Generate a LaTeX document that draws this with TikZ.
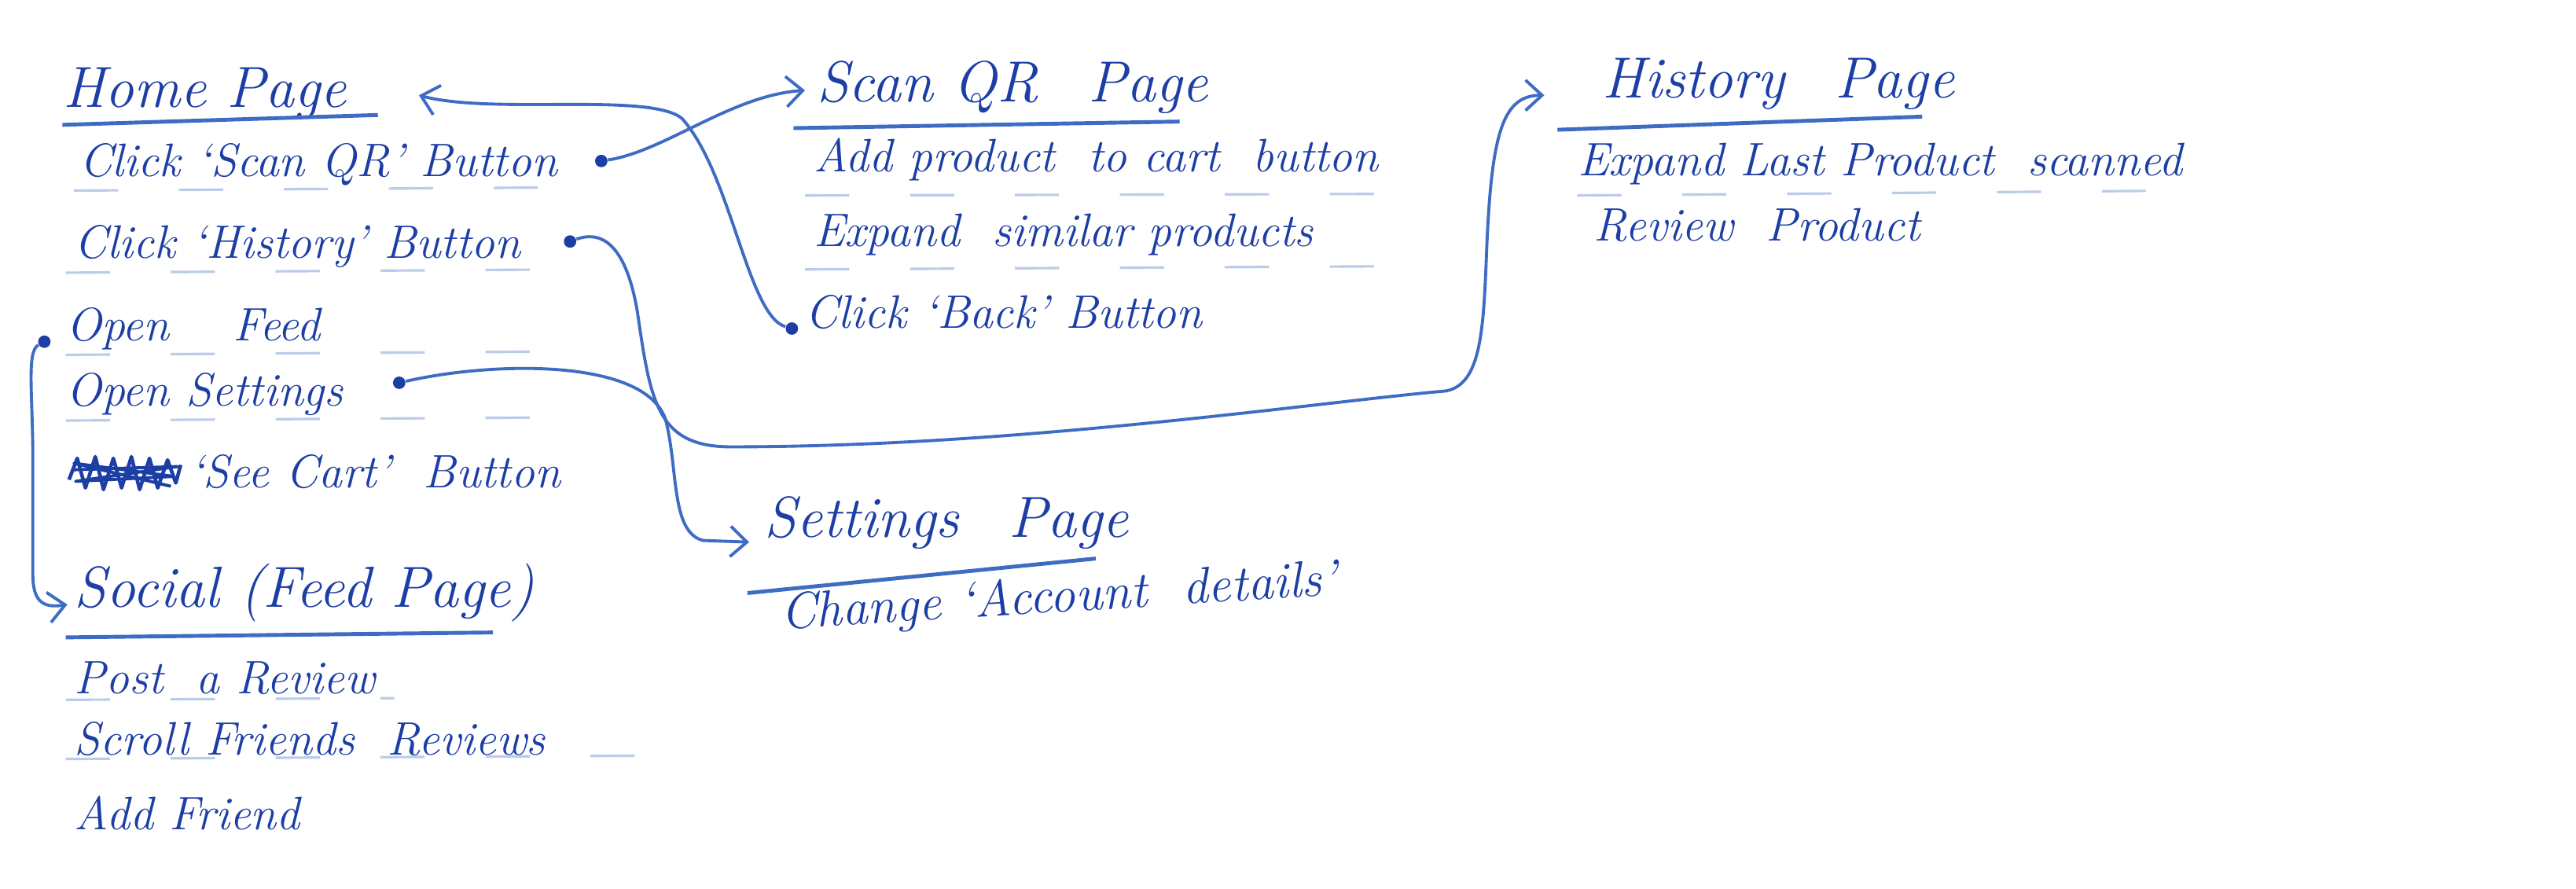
\documentclass[tikz,border=0pt]{standalone}
\usetikzlibrary{arrows.meta}
\definecolor{ink}{RGB}{28,62,165}
\definecolor{pen}{RGB}{62,108,196}
\begin{document}
\begin{tikzpicture}[x=0.0209cm,y=-0.0209cm,
  title/.style={anchor=west,inner sep=0pt,text=ink,font=\fontsize{21}{25}\selectfont\itshape},
  item/.style={anchor=west,inner sep=0pt,text=ink,font=\fontsize{17}{20}\selectfont\itshape},
  dot/.style={circle,fill=ink,inner sep=0pt,minimum size=4.5pt},
  conn/.style={draw=pen,line width=1.1pt,-{Straight Barb[length=6pt,width=11pt,line width=1.1pt]}},
  uline/.style={draw=pen,line width=1.4pt},
  guide/.style={draw=pen!35,line width=0.9pt,dash pattern=on 16pt off 22pt}]
\useasboundingbox[fill=white] (0,0) rectangle (1568,541);

% Home page
\node[title] (home) at (38,57) {Home Page};
\node[item] (hq) at (48,100) {Click `Scan QR' Button};
\node[item] (hh) at (45,150) {Click `History' Button};
\node[item] (hf) at (40,200) {Open \quad Feed};
\node[item] (hs) at (40,240) {Open Settings};
\node[item] (hc) at (115,287) {`See Cart' \ Button};
\draw[ink,line width=1.3pt,line join=round]
  (42,292) -- (47,279) -- (52,297) -- (58,278) -- (63,298) -- (69,279) -- (74,297) -- (80,278)
  -- (85,298) -- (91,279) -- (96,297) -- (102,280) -- (107,294) -- (110,283);
\draw[ink,line width=1.1pt,line join=round]
  (44,286) -- (108,284) -- (46,293) -- (106,290) -- (45,282) -- (104,296);
\draw[uline] (38,76) -- (230,70);
\draw[guide] (45,116) -- (355,114);
\draw[guide] (40,166) -- (345,164);
\draw[guide] (40,216) -- (335,214);
\draw[guide] (40,256) -- (350,254);

% Scan QR page
\node[title] (scan) at (497,53) {Scan QR \, Page};
\node[item] (sa) at (495,97) {Add product \ to cart \ button};
\node[item] (se) at (495,143) {Expand \ similar products};
\node[item] (sb) at (490,190) {Click `Back' Button};
\draw[uline] (483,78) -- (718,74);
\draw[guide] (490,119) -- (862,118);
\draw[guide] (490,164) -- (860,162);

% History page
\node[title] (hist) at (975,51) {History \, Page};
\node[item] (ha) at (960,100) {Expand Last Product \ scanned};
\node[item] (hr) at (970,137) {Review \ Product};
\draw[uline] (948,79) -- (1170,71);
\draw[guide] (960,119) -- (1330,116);

% Social page
\node[title] (soc) at (45,361) {Social (Feed Page)};
\node[item] (sp) at (45,413) {Post \ a Review};
\node[item] (ss) at (45,450) {Scroll Friends \ Reviews};
\node[item] (sf) at (45,495) {Add Friend};
\draw[uline] (40,388) -- (300,385);
\draw[guide] (40,426) -- (240,425);
\draw[guide] (40,462) -- (390,460);

% Settings page
\node[title] (set) at (465,318) {Settings \, Page};
\node[item,rotate=3.5,font=\fontsize{18.5}{22}\selectfont\itshape] (sc) at (475,375) {Change `Account \ details'};
\draw[uline] (455,361) -- (667,340);

% dots and arrow ends
\node[dot] (d1) at (366,98) {};
\node[dot] (d2) at (347,147) {};
\node[dot] (d3) at (27,208) {};
\node[dot] (d4) at (243,233) {};
\node[dot] (d5) at (482,200) {};
\coordinate (tscan) at (490,55);
\coordinate (thome) at (255,58);
\coordinate (thist) at (940,58);
\coordinate (tsoc) at (41,368);
\coordinate (tset) at (456,330);

% connectors
\draw[conn] (d1) .. controls (405,92) and (445,58) .. (tscan);
\draw[conn] (d5) .. controls (455,192) and (445,105) .. (415,72)
  .. controls (395,56) and (300,70) .. (thome);
\draw[conn] (d2) .. controls (372,138) and (383,160) .. (388,190)
  .. controls (396,245) and (400,272) .. (445,272)
  .. controls (620,272) and (800,245) .. (880,238)
  .. controls (902,234) and (903,200) .. (905,150)
  .. controls (908,80) and (915,58) .. (thist);
\draw[conn] (d3) .. controls (16,214) and (20,240) .. (20,280) -- (20,350)
  .. controls (20,368) and (28,370) .. (tsoc);
\draw[conn] (d4) .. controls (300,220) and (392,218) .. (405,255)
  .. controls (413,285) and (408,324) .. (428,329) -- (tset);
\end{tikzpicture}
\end{document}
